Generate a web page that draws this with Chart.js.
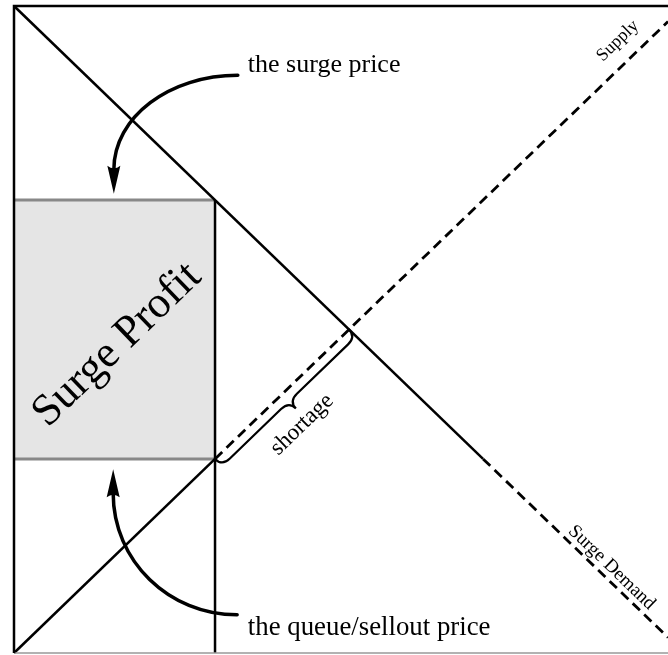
<!DOCTYPE html>
<html>
<head>
<meta charset="utf-8">
<script src="https://cdn.jsdelivr.net/npm/chart.js@4.4.1/dist/chart.umd.min.js"></script>
<style>
  html, body { margin: 0; padding: 0; background: #fff; overflow: hidden; }
  canvas { display: block; }
</style>
</head>
<body>
<canvas id="surge" width="668" height="655"></canvas>
<script>
// Surge pricing diagram: supply vs surge demand, shortage at the queue price

const XMAX = 97.6;   // right edge of the visible frame (x axis)
const YMAX = 100;

// curves (quantity, price)
const supplySolid  = [{x: 0, y: 0}, {x: 30, y: 30}];
const supplyDashed = [{x: 30, y: 30}, {x: XMAX, y: XMAX}];
const demandSolid  = [{x: 0, y: 100}, {x: 70, y: 30}];
const demandDashed = [{x: 70, y: 30}, {x: XMAX, y: 100 - XMAX}];
const quantityLine = [{x: 30, y: 0}, {x: 30, y: 70}];

// surge profit box: top edge (filled down to queue price) and bottom edge
const surgePrice = 70;
const queuePrice = 30;
const profitTop    = [{x: 0, y: surgePrice}, {x: 30, y: surgePrice}];
const profitBottom = [{x: 0, y: queuePrice}, {x: 30, y: queuePrice}];

// shortage brace between these two points on the supply line
const shortageSpan = [{x: 30, y: 30}, {x: 50, y: 50}];

// annotation arrows: [start, tip]
const surgeArrow = [{x: 33.4, y: 89.3}, {x: 14.9, y: 71.0}];
const queueArrow = [{x: 33.3, y: 5.9}, {x: 14.8, y: 28.4}];

// text labels (rot: +1 = along supply, -1 = along demand)
const labels = [
  {text: 'the surge price', x: 34.9, y: 89.8, size: 26, align: 'left', rot: 0},
  {text: 'the queue/sellout price', x: 34.9, y: 2.8, size: 26.8, align: 'left', rot: 0},
  {text: 'Surge Profit', x: 15.4, y: 47.6, size: 44.5, align: 'center', rot: 1},
  {text: 'shortage', x: 43.0, y: 35.3, size: 23, align: 'center', rot: 1},
  {text: 'Supply', x: 90.1, y: 94.6, size: 18, align: 'center', rot: 1},
  {text: 'Surge Demand', x: 89.2, y: 13.2, size: 19, align: 'center', rot: -1}
];

const FONT = '"Liberation Serif", "DejaVu Serif", serif';

function line(data, dashed, color, width) {
  return {
    data: data,
    showLine: true,
    borderColor: color || '#000',
    borderWidth: width || (dashed ? 2.8 : 2.5),
    borderDash: dashed ? [10, 6] : [],
    pointRadius: 0,
    fill: false,
    clip: false
  };
}

const framePlugin = {
  id: 'frame',
  afterDatasetsDraw(chart) {
    const ctx = chart.ctx;
    const a = chart.chartArea;
    ctx.save();
    // bottom edge (grey)
    ctx.strokeStyle = '#999';
    ctx.lineWidth = 1.5;
    ctx.beginPath();
    ctx.moveTo(a.left, a.bottom);
    ctx.lineTo(a.right, a.bottom);
    ctx.stroke();
    // left and top edges
    ctx.strokeStyle = '#000';
    ctx.lineWidth = 2.5;
    ctx.beginPath();
    ctx.moveTo(a.left, a.bottom);
    ctx.lineTo(a.left, a.top);
    ctx.lineTo(a.right, a.top);
    ctx.stroke();
    ctx.restore();
  }
};

const annotationPlugin = {
  id: 'annotations',
  afterDraw(chart) {
    const ctx = chart.ctx;
    const xs = chart.scales.x, ys = chart.scales.y;
    const px = p => ({x: xs.getPixelForValue(p.x), y: ys.getPixelForValue(p.y)});
    // angle of a 45 degree data line in pixel space
    const slope = Math.atan2(ys.getPixelForValue(0) - ys.getPixelForValue(1),
                             xs.getPixelForValue(1) - xs.getPixelForValue(0));

    ctx.save();

    // curved arrows
    const drawArrow = (pair) => {
      const s = px(pair[0]), tip = px(pair[1]);
      const dir = tip.y > s.y ? 1 : -1;      // head points down or up
      const headLen = 26, headW = 6.5;
      const base = {x: tip.x, y: tip.y - dir * headLen};
      const k = 0.55;
      const dx = Math.abs(s.x - base.x), dy = Math.abs(s.y - base.y);
      ctx.strokeStyle = '#000';
      ctx.lineWidth = 3.5;
      ctx.lineCap = 'round';
      ctx.beginPath();
      ctx.moveTo(s.x, s.y);
      ctx.bezierCurveTo(s.x - k * dx, s.y, base.x, base.y - dir * k * dy, base.x, base.y + dir * 2);
      ctx.stroke();
      ctx.fillStyle = '#000';
      ctx.beginPath();
      ctx.moveTo(tip.x, tip.y);
      ctx.lineTo(base.x - headW, base.y - dir * 2);
      ctx.quadraticCurveTo(base.x, base.y + dir * 3, base.x + headW, base.y - dir * 2);
      ctx.closePath();
      ctx.fill();
    };
    drawArrow(surgeArrow);
    drawArrow(queueArrow);

    // curly brace under the shortage segment
    const A = px(shortageSpan[0]), B = px(shortageSpan[1]);
    const L = Math.hypot(B.x - A.x, B.y - A.y);
    const u = {x: (B.x - A.x) / L, y: (B.y - A.y) / L};
    const v = {x: -u.y, y: u.x};
    const P = (s, t) => ({x: A.x + u.x * s + v.x * t, y: A.y + u.y * s + v.y * t});
    const h = 10, r = 11, m = L / 2;
    const pts = [
      ['M', P(0, 0)],
      ['Q', P(0, h), P(r, h)],
      ['L', P(m - r, h)],
      ['Q', P(m, h), P(m, 2 * h)],
      ['Q', P(m, h), P(m + r, h)],
      ['L', P(L - r, h)],
      ['Q', P(L, h), P(L, 0)]
    ];
    ctx.lineWidth = 2.2;
    ctx.lineCap = 'round';
    ctx.beginPath();
    pts.forEach(seg => {
      if (seg[0] === 'M') ctx.moveTo(seg[1].x, seg[1].y);
      else if (seg[0] === 'L') ctx.lineTo(seg[1].x, seg[1].y);
      else ctx.quadraticCurveTo(seg[1].x, seg[1].y, seg[2].x, seg[2].y);
    });
    ctx.stroke();

    // labels
    ctx.fillStyle = '#000';
    labels.forEach(l => {
      const p = px(l);
      ctx.save();
      ctx.translate(p.x, p.y);
      ctx.rotate(-l.rot * slope);
      ctx.font = l.size + 'px ' + FONT;
      ctx.textAlign = l.align;
      ctx.textBaseline = l.align === 'left' ? 'alphabetic' : 'middle';
      ctx.fillText(l.text, 0, 0);
      ctx.restore();
    });

    ctx.restore();
  }
};

new Chart(document.getElementById('surge'), {
  type: 'scatter',
  data: {
    datasets: [
      line(supplySolid, false),
      line(supplyDashed, true),
      line(demandSolid, false),
      line(demandDashed, true),
      line(quantityLine, false),
      line(profitBottom, false, '#888', 3),
      Object.assign(line(profitTop, false, '#888', 3), {
        fill: {value: queuePrice},
        backgroundColor: '#e5e5e5'
      })
    ]
  },
  options: {
    responsive: false,
    animation: false,
    layout: {padding: {left: 14, top: 6, right: 0, bottom: 2}},
    plugins: {legend: {display: false}, tooltip: {enabled: false}},
    scales: {
      x: {type: 'linear', min: 0, max: XMAX, display: false},
      y: {type: 'linear', min: 0, max: YMAX, display: false}
    }
  },
  plugins: [framePlugin, annotationPlugin]
});
</script>
</body>
</html>
